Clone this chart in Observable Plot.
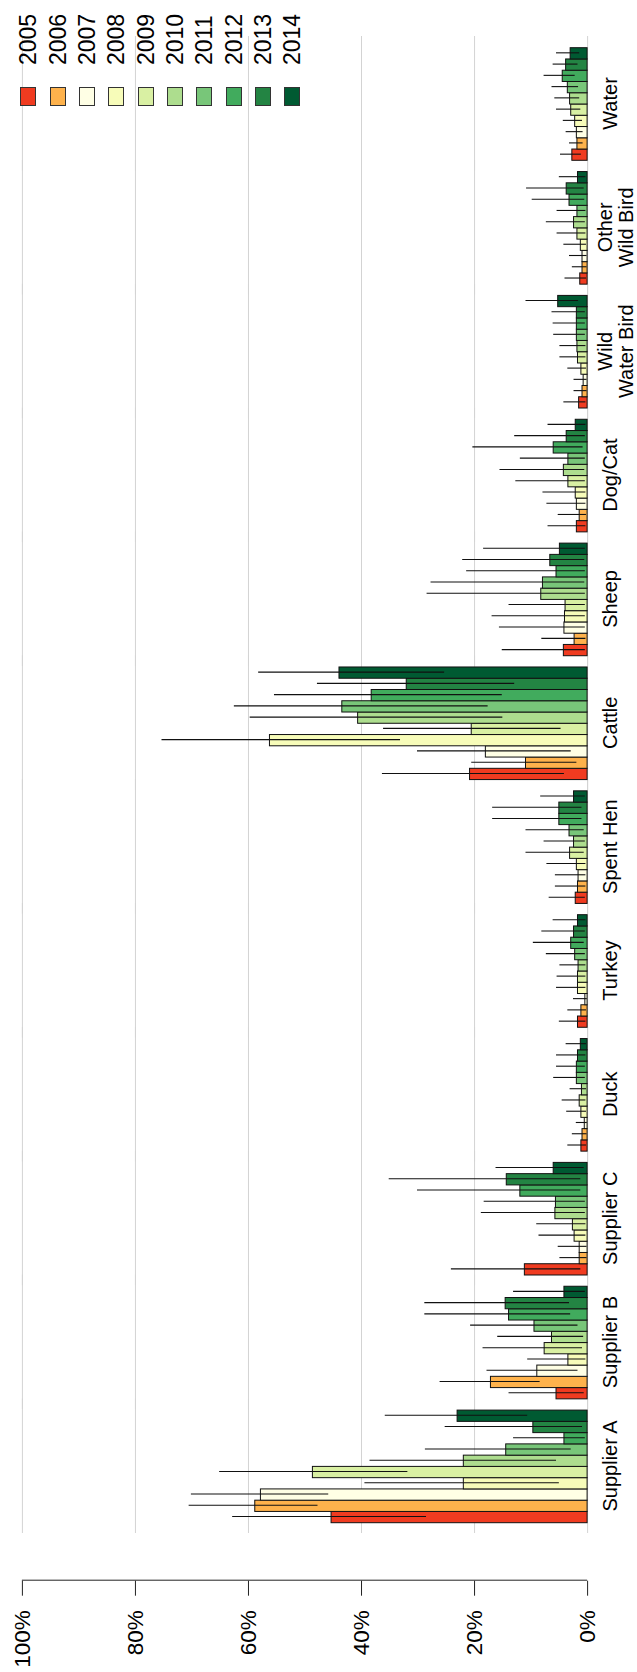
<!DOCTYPE html>
<html>
<head>
<meta charset="utf-8">
<script src="https://cdn.jsdelivr.net/npm/d3@7"></script>
<script src="https://cdn.jsdelivr.net/npm/@observablehq/plot@0.6"></script>
<style>
html, body { margin: 0; padding: 0; width: 637px; height: 1672px; overflow: hidden; background: #fff; }
#wrap { position: absolute; left: 0; top: 0; width: 1672px; height: 637px; transform-origin: 0 0;
  transform: translate(0, 1672px) rotate(-90deg); font-family: "Liberation Sans", Arial, sans-serif; background: #fff; }
#chart { position: absolute; left: 0; top: 0; }
.lg-box { position: absolute; width: 19px; height: 16px; box-sizing: border-box; border: 1px solid #333; }
.lg-text { position: absolute; font-size: 23px; line-height: 1; transform: translateY(-50%); color: #000; white-space: nowrap; }
</style>
</head>
<body>
<div id="wrap"><div id="chart"></div><div id="legend"></div></div>
<script>
// ---- data ----
const categories = ["Supplier A", "Supplier B", "Supplier C", "Duck", "Turkey", "Spent Hen", "Cattle", "Sheep", "Dog/Cat", "Wild Water Bird", "Other Wild Bird", "Water"];
const categoryLabels = ["Supplier A", "Supplier B", "Supplier C", "Duck", "Turkey", "Spent Hen", "Cattle", "Sheep", "Dog/Cat", "Wild\nWater Bird", "Other\nWild Bird", "Water"];
const years = ["2005", "2006", "2007", "2008", "2009", "2010", "2011", "2012", "2013", "2014"];
const yearColors = ["#f03b20", "#feb24c", "#ffffe5", "#f7fcb9", "#d9f0a3", "#addd8e", "#78c679", "#41ab5d", "#238443", "#005a32"];
const yTicks = [0, 20, 40, 60, 80, 100];

// prevalence (%) per year 2005..2014, with lower / upper interval bounds
const supplierA = {value: [45.3, 58.8, 57.8, 21.9, 48.6, 21.9, 14.4, 4.1, 9.6, 23.0],
  lower: [28.5, 47.7, 45.8, 5.0, 31.8, 5.5, 2.9, 0.4, 0.9, 10.6],
  upper: [62.8, 70.5, 70.1, 39.4, 65.1, 38.5, 28.7, 13.1, 25.2, 35.8]};
const supplierB = {value: [5.5, 17.1, 8.9, 3.4, 7.6, 6.3, 9.4, 13.9, 14.5, 4.1],
  lower: [0.6, 8.4, 1.7, 0.3, 0.9, 0.7, 1.7, 3.0, 3.2, 0.4],
  upper: [13.9, 26.1, 17.8, 10.6, 18.5, 15.9, 20.7, 28.8, 28.8, 13.1]};
const supplierC = {value: [11.1, 1.4, 1.4, 2.3, 2.6, 5.7, 5.6, 11.9, 14.3, 6.0],
  lower: [1.2, 0.1, 0.1, 0.3, 0.3, 0.4, 0.4, 1.2, 1.2, 0.6],
  upper: [24.1, 4.9, 5.2, 8.6, 9.0, 18.8, 18.3, 30.1, 35.1, 16.2]};
const duck = {value: [1.1, 0.9, 0.5, 1.1, 1.4, 1.0, 1.9, 1.9, 1.7, 1.2],
  lower: [0.2, 0.1, 0.05, 0.2, 0.3, 0.2, 0.4, 0.4, 0.3, 0.2],
  upper: [3.5, 2.7, 2.0, 3.7, 4.5, 3.1, 6.0, 5.5, 5.5, 3.8]};
const turkey = {value: [1.7, 1.1, 0.4, 1.7, 1.7, 1.6, 2.2, 2.9, 2.4, 1.7],
  lower: [0.3, 0.2, 0.05, 0.3, 0.3, 0.3, 0.4, 0.6, 0.4, 0.3],
  upper: [5.0, 3.5, 2.5, 5.5, 5.4, 4.9, 7.3, 9.6, 8.1, 6.1]};
const spentHen = {value: [2.1, 1.7, 1.6, 1.9, 3.1, 2.4, 3.2, 5.0, 5.0, 2.4],
  lower: [0.4, 0.3, 0.3, 0.3, 0.6, 0.4, 0.6, 1.0, 1.0, 0.4],
  upper: [6.8, 5.7, 5.7, 7.2, 10.9, 7.7, 10.9, 16.8, 16.8, 8.3]};
const cattle = {value: [20.8, 10.9, 18.0, 56.2, 20.5, 40.6, 43.4, 38.2, 32.0, 43.9],
  lower: [4.1, 1.9, 2.9, 33.1, 4.7, 15.0, 17.6, 15.1, 12.9, 25.3],
  upper: [36.3, 20.5, 30.1, 75.3, 36.1, 59.7, 62.5, 55.4, 47.8, 58.2]};
const sheep = {value: [4.2, 2.3, 4.1, 4.0, 3.9, 8.2, 7.9, 5.5, 6.6, 4.9],
  lower: [0.4, 0.3, 0.4, 0.4, 0.4, 0.4, 0.5, 0.4, 0.5, 0.4],
  upper: [15.1, 8.1, 15.6, 16.9, 13.9, 28.4, 27.7, 21.4, 22.1, 18.4]};
const dogCat = {value: [1.9, 1.4, 1.9, 2.1, 3.4, 4.2, 3.4, 6.0, 3.7, 2.1],
  lower: [0.3, 0.2, 0.3, 0.3, 0.4, 0.5, 0.4, 0.8, 0.4, 0.3],
  upper: [7.0, 5.2, 7.2, 7.9, 12.7, 15.5, 11.9, 20.3, 12.9, 7.0]};
const wildWaterBird = {value: [1.5, 0.9, 0.7, 1.1, 1.7, 1.8, 1.9, 1.9, 1.9, 5.2],
  lower: [0.3, 0.1, 0.1, 0.2, 0.3, 0.3, 0.4, 0.4, 0.4, 1.6],
  upper: [4.2, 2.4, 2.4, 3.5, 4.9, 4.9, 6.0, 6.1, 6.3, 10.9]};
const otherWildBird = {value: [1.3, 0.9, 0.9, 1.2, 1.8, 2.4, 1.8, 3.2, 3.7, 1.7],
  lower: [0.2, 0.1, 0.1, 0.2, 0.3, 0.4, 0.3, 0.5, 0.6, 0.3],
  upper: [4.0, 2.7, 3.2, 4.2, 5.4, 7.3, 5.4, 9.8, 10.8, 5.0]};
const water = {value: [2.7, 1.8, 1.9, 2.2, 2.9, 3.1, 3.5, 4.4, 3.8, 3.0],
  lower: [1.1, 0.8, 0.8, 0.9, 1.2, 1.4, 1.6, 2.2, 1.7, 1.4],
  upper: [4.8, 3.2, 3.8, 4.3, 5.5, 5.8, 6.3, 7.7, 6.1, 5.5]};

const groups = [supplierA, supplierB, supplierC, duck, turkey, spentHen, cattle, sheep, dogCat, wildWaterBird, otherWildBird, water];

const rows = [];
groups.forEach((g, ci) => g.value.forEach((v, i) => rows.push({
  cat: categories[ci], year: years[i], value: v, lo: g.lower[i], hi: g.upper[i]
})));

// ---- layout (drawn in landscape, then turned a quarter turn) ----
const W = 1672, H = 637;
const mL = 149.3, mR = 47.7, mT = 21.9, mB = 49.9;
const pIn = 1 / 11;
const step = (W - mL - mR) / (categories.length - pIn);
const bw = step * (1 - pIn) / years.length;
const axisShift = -58;
const labelOf = new Map(categories.map((c, i) => [c, categoryLabels[i]]));
const isDouble = c => labelOf.get(c).includes("\n");

const chart = Plot.plot({
  width: W, height: H,
  marginLeft: mL, marginRight: mR, marginTop: mT, marginBottom: mB,
  style: {fontFamily: "'Liberation Sans', Arial, sans-serif", fontSize: "20px", background: "white", color: "black"},
  fx: {domain: categories, paddingInner: pIn, paddingOuter: 0, round: false, label: null},
  x: {domain: years, padding: 0, round: false, axis: null},
  y: {domain: [0, 100]},
  color: {domain: years, range: yearColors},
  marks: [
    Plot.ruleY(yTicks, {stroke: "#d3d3d3", strokeWidth: 1, insetLeft: -10.3, insetRight: -11.7}),
    Plot.barY(rows, {fx: "cat", x: "year", y: "value", fill: "year", stroke: "#111", strokeWidth: 1}),
    Plot.ruleX(rows, {fx: "cat", x: "year", y1: "lo", y2: "hi", stroke: "#111", strokeWidth: 1.1}),
    Plot.axisY({ticks: yTicks, tickFormat: d => d + "%", tickSize: 15, tickPadding: 15, dx: axisShift, fontSize: 22.5, label: null, stroke: "#222"}),
    Plot.ruleX([categories[0]], {fx: d => d, x: () => years[0], y1: 0, y2: 100, dx: axisShift - bw / 2, stroke: "#222", strokeWidth: 1}),
    Plot.axisFx({anchor: "bottom", tickSize: 0, tickPadding: 15, fontSize: 20, tickFormat: d => isDouble(d) ? "" : labelOf.get(d), label: null}),
    Plot.axisFx({anchor: "bottom", tickSize: 0, tickPadding: 10, fontSize: 20, lineHeight: 1.03, tickFormat: d => isDouble(d) ? labelOf.get(d) : "", label: null})
  ]
});
document.getElementById("chart").appendChild(chart);

// ---- legend ----
const legend = document.getElementById("legend");
years.forEach((y, k) => {
  const cy = 28.4 + k * 29.3;
  const box = document.createElement("div");
  box.className = "lg-box";
  box.style.left = "1566px";
  box.style.top = (cy - 8) + "px";
  box.style.background = yearColors[k];
  legend.appendChild(box);
  const t = document.createElement("div");
  t.className = "lg-text";
  t.style.left = "1607px";
  t.style.top = cy + "px";
  t.textContent = y;
  legend.appendChild(t);
});
</script>
</body>
</html>
